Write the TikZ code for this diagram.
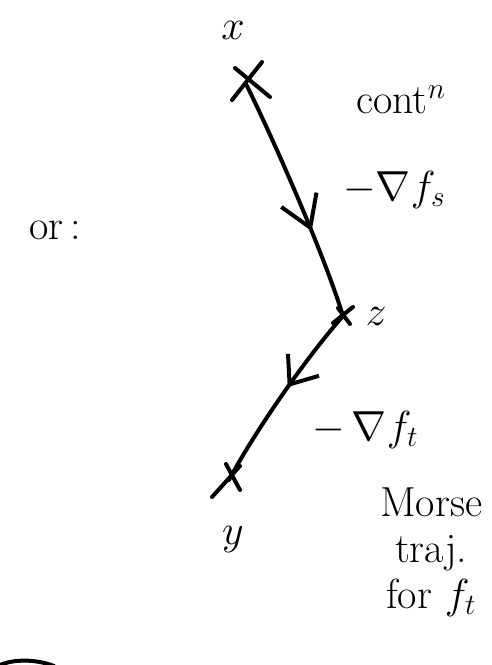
\RequirePackage{fix-cm}
\documentclass[tikz,border=0pt]{standalone}
\usetikzlibrary{arrows.meta,decorations.markings}
\begin{document}
\begin{tikzpicture}[x=1pt,y=-1pt,
  ink/.style={line width=4pt,line cap=round,line join=round,black},
  lbl/.style={inner sep=0pt,font=\fontsize{42}{46}\selectfont},
  midarrow/.style 2 args={postaction={decorate},decoration={markings,
     mark=at position #1 with {\arrow[line width=4pt,line cap=round]{Straight Barb[length=#2,width=38pt,line width=4pt]}}}}]
\useasboundingbox (0,0) rectangle (491,665);
% crosses
\coordinate (X) at (246,84);
\coordinate (Z) at (343,316);
\coordinate (Y) at (229,480);
\draw[ink] (232,100) -- (262,62) (235,68) -- (270,97);
\draw[ink] (333,323) -- (353,307) (338,308) -- (350,324);
\draw[ink] (212,497) -- (240,466) (226,464) -- (240,490);
% connectors
\draw[ink,midarrow={0.64}{30pt}] (X) .. controls (268,128) and (322,248) .. (Z);
\draw[ink,midarrow={0.45}{24pt}] (Z) .. controls (300,365) and (250,440) .. (Y);
% labels
\node[lbl] (lx) at (233,30) {$x$};
\node[lbl] (lz) at (376,316) {$z$};
\node[lbl] (ly) at (233,540) {$y$};
\node[lbl,anchor=west] (cont) at (356,100) {cont$^{n}$};
\node[lbl,anchor=west] (gs) at (343,190) {$-\nabla f_s$};
\node[lbl] (or) at (55,230) {or\,:};
\node[lbl,anchor=west] (gt) at (312,430) {$-\,\nabla f_t$};
\node[lbl,anchor=west,align=center] (morse) at (380,552) {Morse\\traj.\\for $f_t$};
% partial curve bottom left
\draw[ink] (0,665) .. controls (14,659) and (36,659) .. (54,666);
\end{tikzpicture}
\end{document}
